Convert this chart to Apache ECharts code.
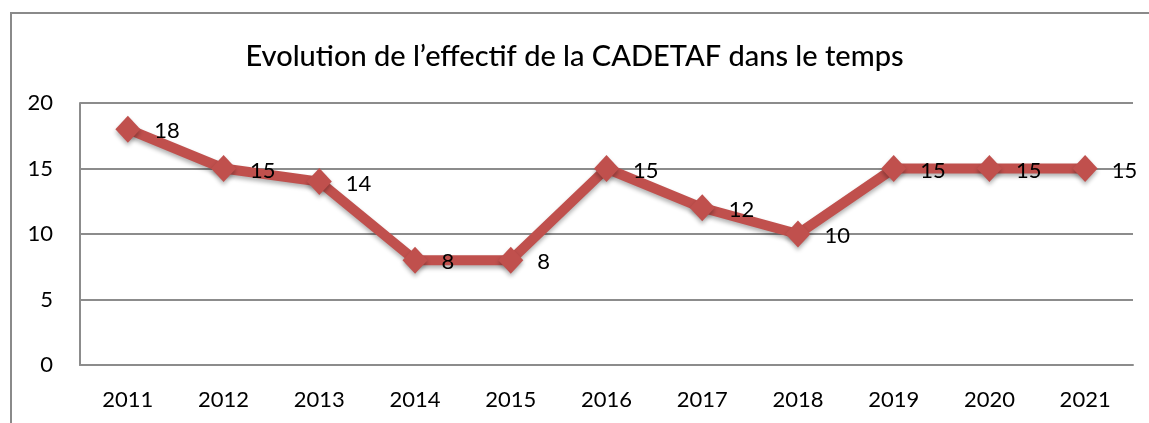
<!DOCTYPE html>
<html>
<head>
<meta charset="utf-8">
<script src="https://cdn.jsdelivr.net/npm/echarts@6/dist/echarts.min.js"></script>
<style>
html,body{margin:0;padding:0;background:#fff;}
#c{width:1149px;height:423px;}
</style>
</head>
<body>
<div id="c"></div>
<script>
const categories = ['2011','2012','2013','2014','2015','2016','2017','2018','2019','2020','2021'];
const effectif = [18,15,14,8,8,15,12,10,15,15,15];
const titleText = 'Evolution de l\u2019effectif de la CADETAF dans le temps';

const chart = echarts.init(document.getElementById('c'), null, {renderer:'canvas'});
chart.setOption({
  animation:false,
  backgroundColor:'#fff',
  title:{
    text:titleText,
    left:'center',
    top:37,
    textStyle:{fontFamily:'Lato',fontSize:29,fontWeight:500,color:'#000'}
  },
  graphic:[{
    type:'polyline',
    shape:{points:[[11,423],[11,13],[1149,13]]},
    style:{stroke:'#8a8a8a',lineWidth:2,fill:null}
  }],
  grid:{left:80,right:16,top:103,bottom:58},
  xAxis:{
    type:'category',
    data:categories,
    boundaryGap:true,
    axisLine:{show:true,lineStyle:{color:'#8c8c8c',width:2}},
    axisTick:{show:false},
    axisLabel:{color:'#000',fontFamily:'Lato',fontSize:22,margin:24}
  },
  yAxis:{
    type:'value',
    min:0,max:20,interval:5,
    axisLine:{show:true,lineStyle:{color:'#8c8c8c',width:2}},
    axisTick:{show:false},
    splitLine:{show:true,lineStyle:{color:'#8c8c8c',width:2}},
    axisLabel:{color:'#000',fontFamily:'Lato',fontSize:22,margin:27}
  },
  series:[{
    type:'line',
    data:effectif,
    symbol:'diamond',
    symbolSize:[25,27],
    lineStyle:{color:'#C0504D',width:10,shadowColor:'rgba(0,0,0,0.3)',shadowBlur:4,shadowOffsetY:3},
    itemStyle:{color:'#C0504D',shadowColor:'rgba(0,0,0,0.3)',shadowBlur:4,shadowOffsetY:3},
    label:{show:true,position:'right',distance:14,offset:[0,2],color:'#000',fontFamily:'Lato',fontSize:22}
  }]
});
</script>
</body>
</html>
